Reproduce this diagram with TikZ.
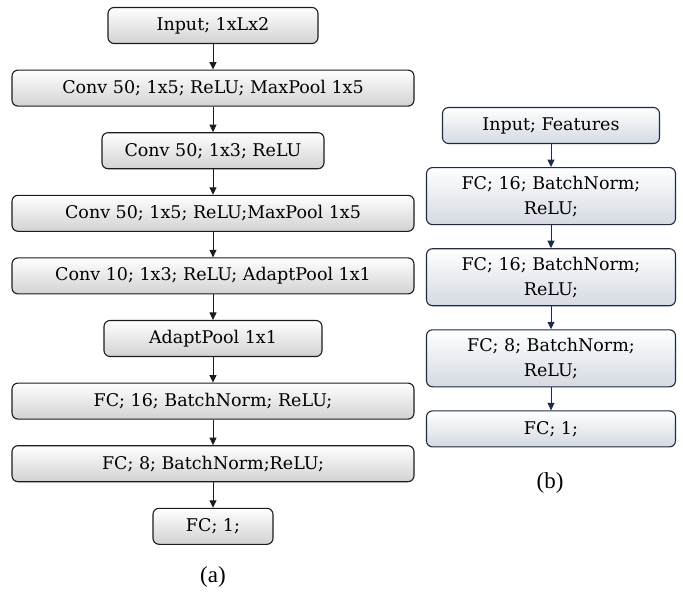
\documentclass[tikz,border=0pt]{standalone}
\usepackage{fontspec}
\setmainfont{DejaVu Serif}
\newfontfamily\capfont{Liberation Serif}
\usetikzlibrary{positioning,arrows.meta}
\definecolor{cEdgeA}{HTML}{1C1C1C}
\definecolor{cEdgeB}{HTML}{1E2B47}
\definecolor{cShadeA}{HTML}{D2D2D2}
\definecolor{cShadeB}{HTML}{D5D9E1}
\tikzset{
  font=\fontsize{17.5}{25}\selectfont,
  >={Triangle[length=7.5pt,width=7pt]},
  layer/.style={draw=cEdge#1, top color=white, bottom color=cShade#1,
                rounded corners=6pt, line width=1.1pt, inner sep=2pt,
                minimum height=36pt, align=center},
  layerA/.style={layer=A},
  layerB/.style={layer=B},
  flow/.style={->, line width=1pt, draw=cEdge#1},
  flow/.default=A,
  caption/.style={font=\capfont\fontsize{23}{26}\selectfont},
}

\begin{document}
\begin{tikzpicture}[x=1pt, y=1pt, node distance=25.5pt]
\useasboundingbox (0,0) rectangle (683,-595);

% ------------------------------------------------------------------ (a) conv net
\node[layerA, minimum width=210pt] (inA) at (213,-25.5) {Input; 1xLx2};
\node[layerA, minimum width=402pt, below=of inA]   (conv1) {Conv 50; 1x5; ReLU; MaxPool 1x5};
\node[layerA, minimum width=222pt, below=of conv1] (conv2) {Conv 50; 1x3; ReLU};
\node[layerA, minimum width=402pt, below=of conv2] (conv3) {Conv 50; 1x5; ReLU;MaxPool 1x5};
\node[layerA, minimum width=402pt, below=of conv3] (conv4) {Conv 10; 1x3; ReLU; AdaptPool 1x1};
\node[layerA, minimum width=218pt, below=of conv4] (pool)  {AdaptPool 1x1};
\node[layerA, minimum width=402pt, below=of pool]  (fcA1)  {FC; 16; BatchNorm; ReLU;};
\node[layerA, minimum width=402pt, below=of fcA1]  (fcA2)  {FC; 8; BatchNorm;ReLU;};
\node[layerA, minimum width=120pt, below=of fcA2]  (outA)  {FC; 1;};
\foreach \a/\b in {inA/conv1, conv1/conv2, conv2/conv3, conv3/conv4,
                   conv4/pool, pool/fcA1, fcA1/fcA2, fcA2/outA}
  \draw[flow] (\a) -- (\b);
\node[caption] (capA) at (213,-577) {(a)};

% ------------------------------------------------------------------ (b) feature net
\begin{scope}[node distance=23pt]
\node[layerB, minimum width=217pt] (inB) at (551,-125.5) {Input; Features};
\node[layerB, minimum width=249pt, minimum height=57pt, below=of inB]  (fcB1) {FC; 16; BatchNorm;\\ReLU;};
\node[layerB, minimum width=249pt, minimum height=57pt, below=of fcB1] (fcB2) {FC; 16; BatchNorm;\\ReLU;};
\node[layerB, minimum width=249pt, minimum height=57pt, below=of fcB2] (fcB3) {FC; 8; BatchNorm;\\ReLU;};
\node[layerB, minimum width=249pt, below=of fcB3] (outB) {FC; 1;};
\end{scope}
\foreach \a/\b in {inB/fcB1, fcB1/fcB2, fcB2/fcB3, fcB3/outB}
  \draw[flow=B] (\a) -- (\b);
\node[caption] (capB) at (550,-483) {(b)};

\end{tikzpicture}
\end{document}
